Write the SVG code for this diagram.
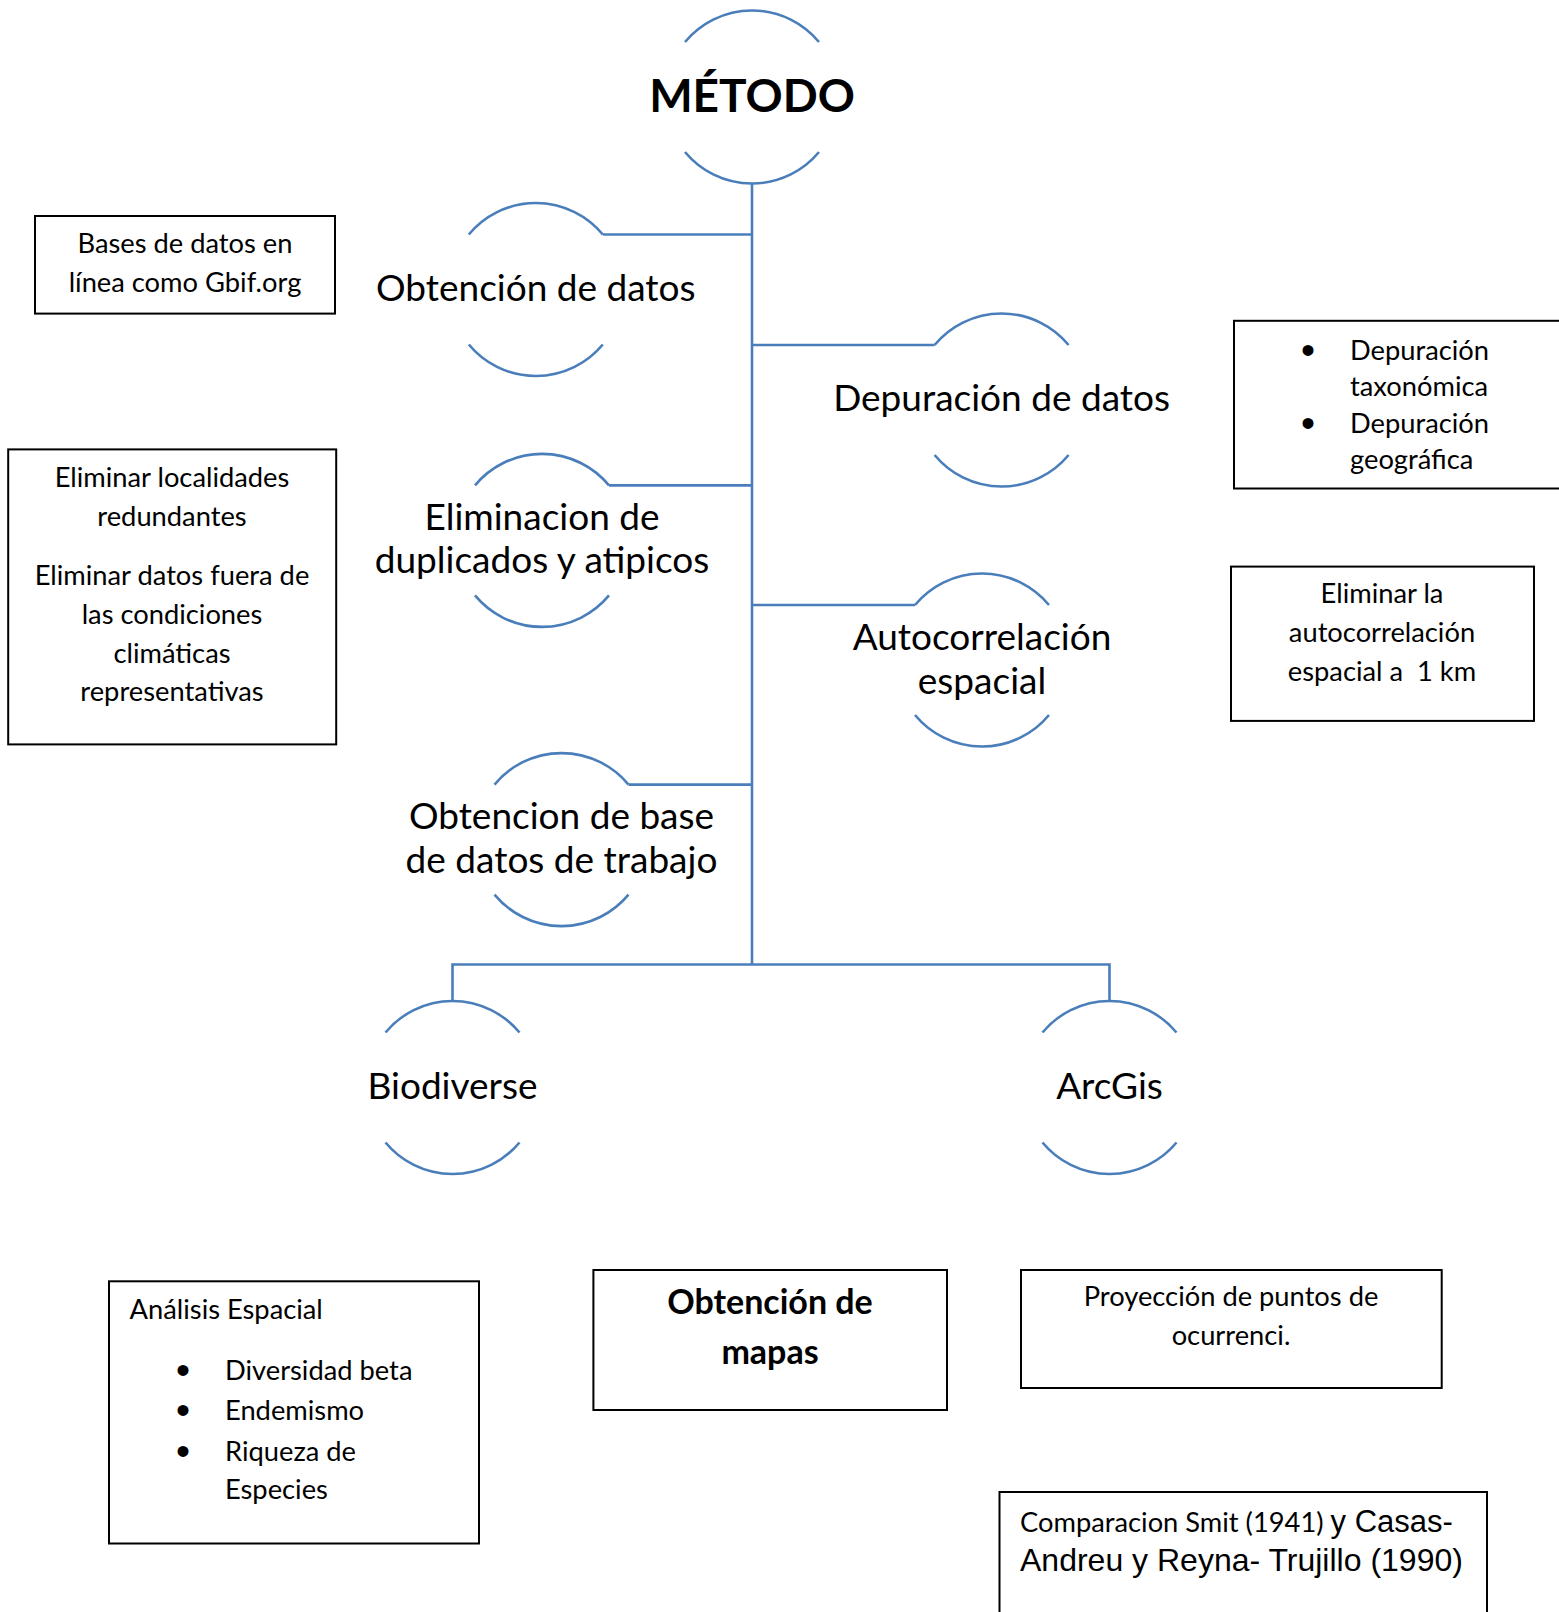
<svg xmlns="http://www.w3.org/2000/svg" xmlns:xlink="http://www.w3.org/1999/xlink" width="1559" height="1612" viewBox="0 0 1559 1612">
<style>
.arc{fill:none;stroke:#4A7EBB;stroke-width:2.6}
.con{fill:none;stroke:#4A7EBB;stroke-width:2.6}
.box{fill:#fff;stroke:#000;stroke-width:2}
.nl{font-family:Lato,"Open Sans",sans-serif;font-size:37px;fill:#000;text-anchor:middle}
.bt{font-family:Lato,"Open Sans",sans-serif;font-size:27.3px;fill:#000}
.c{text-anchor:middle}
.ar{font-family:"Liberation Sans",Arial,sans-serif}
.bul{font-family:"Liberation Sans",Arial,sans-serif;font-size:40px}
</style>
<defs>
<path id="arcs" d="M-67,-55 A87,87 0 0 1 67,-55 M-67,55 A87,87 0 0 0 67,55"/>
</defs>
<rect width="1559" height="1612" fill="#fff"/>
<g id="connectors">
<path class="con" d="M752,184 V964.5"/>
<path class="con" d="M602.8,234.5 H752"/>
<path class="con" d="M752,345 H934.6"/>
<path class="con" d="M609,485.4 H752"/>
<path class="con" d="M752,605 H915"/>
<path class="con" d="M628.5,784.6 H752"/>
<path class="con" d="M452.5,1000.5 V964.5 H1109.5 V1000.5"/>
</g>
<g id="node-metodo">
<use xlink:href="#arcs" x="752" y="97" class="arc"/>
<text x="752" y="112" style="font-family:Lato,'Open Sans',sans-serif;font-weight:bold;font-size:46px;text-anchor:middle">MÉTODO</text>
</g>
<g id="node-obtencion">
<use xlink:href="#arcs" x="535.8" y="289.5" class="arc"/>
<text class="nl" x="535.8" y="301">Obtención de datos</text>
</g>
<g id="node-depuracion">
<use xlink:href="#arcs" x="1001.6" y="400" class="arc"/>
<text class="nl" x="1001.6" y="411">Depuración de datos</text>
</g>
<g id="node-eliminacion">
<use xlink:href="#arcs" x="542" y="540.4" class="arc"/>
<text class="nl" x="542" y="529.6">Eliminacion de</text>
<text class="nl" x="542" y="572.8">duplicados y atipicos</text>
</g>
<g id="node-autocorrelacion">
<use xlink:href="#arcs" x="982" y="660" class="arc"/>
<text class="nl" x="982" y="650">Autocorrelación</text>
<text class="nl" x="982" y="694">espacial</text>
</g>
<g id="node-base">
<use xlink:href="#arcs" x="561.5" y="839.6" class="arc"/>
<text class="nl" x="561.5" y="829">Obtencion de base</text>
<text class="nl" x="561.5" y="873">de datos de trabajo</text>
</g>
<g id="node-biodiverse">
<use xlink:href="#arcs" x="452.5" y="1087.5" class="arc"/>
<text class="nl" x="452.5" y="1099">Biodiverse</text>
</g>
<g id="node-arcgis">
<use xlink:href="#arcs" x="1109.5" y="1087.5" class="arc"/>
<text class="nl" x="1109.5" y="1099">ArcGis</text>
</g>
<g id="box-bases">
<rect class="box" x="35" y="216" width="300" height="97.6"/>
<text class="bt c" x="185" y="253">Bases de datos en</text>
<text class="bt c" x="185" y="292">línea como Gbif.org</text>
</g>
<g id="box-eliminar">
<rect class="box" x="8.2" y="449.4" width="328" height="295"/>
<text class="bt c" x="172" y="487.4">Eliminar localidades</text>
<text class="bt c" x="172" y="525.5">redundantes</text>
<text class="bt c" x="172" y="585">Eliminar datos fuera de</text>
<text class="bt c" x="172" y="624">las condiciones</text>
<text class="bt c" x="172" y="663">climáticas</text>
<text class="bt c" x="172" y="701">representativas</text>
</g>
<g id="box-depuracion">
<rect class="box" x="1234" y="320.8" width="340" height="167.7"/>
<text class="bul" x="1301" y="364">•</text>
<text class="bt" x="1350" y="360">Depuración</text>
<text class="bt" x="1350" y="396">taxonómica</text>
<text class="bul" x="1301" y="437">•</text>
<text class="bt" x="1350" y="433">Depuración</text>
<text class="bt" x="1350" y="469">geográfica</text>
</g>
<g id="box-autocorrelacion">
<rect class="box" x="1231" y="566.6" width="303" height="154.3"/>
<text class="bt c" x="1382" y="602.6">Eliminar la</text>
<text class="bt c" x="1382" y="641.7">autocorrelación</text>
<text class="bt c" x="1382" y="680.7" xml:space="preserve">espacial a  1 km</text>
</g>
<g id="box-analisis">
<rect class="box" x="109" y="1281.3" width="370" height="262.2"/>
<text class="bt" x="129.6" y="1319">Análisis Espacial</text>
<text class="bul" x="176" y="1384">•</text>
<text class="bt" x="225" y="1380">Diversidad beta</text>
<text class="bul" x="176" y="1424">•</text>
<text class="bt" x="225" y="1420">Endemismo</text>
<text class="bul" x="176" y="1465">•</text>
<text class="bt" x="225" y="1461">Riqueza de</text>
<text class="bt" x="225" y="1499">Especies</text>
</g>
<g id="box-mapas">
<rect class="box" x="593.4" y="1270" width="353.6" height="140"/>
<text class="bt c" x="770" y="1314" style="font-weight:bold;font-size:34px">Obtención de</text>
<text class="bt c" x="770" y="1363.6" style="font-weight:bold;font-size:34px">mapas</text>
</g>
<g id="box-proyeccion">
<rect class="box" x="1021" y="1270" width="420.7" height="118"/>
<text class="bt c" x="1231" y="1306">Proyección de puntos de</text>
<text class="bt c" x="1231" y="1345">ocurrenci.</text>
</g>
<g id="box-comparacion">
<rect class="box" x="999.5" y="1492" width="487.5" height="140"/>
<text class="bt" x="1020" y="1532">Comparacion Smit (1941) <tspan class="ar" style="font-size:31px">y Casas-</tspan></text>
<text class="bt ar" x="1020" y="1571" style="font-size:32px">Andreu y Reyna- Trujillo (1990)</text>
</g>
</svg>
